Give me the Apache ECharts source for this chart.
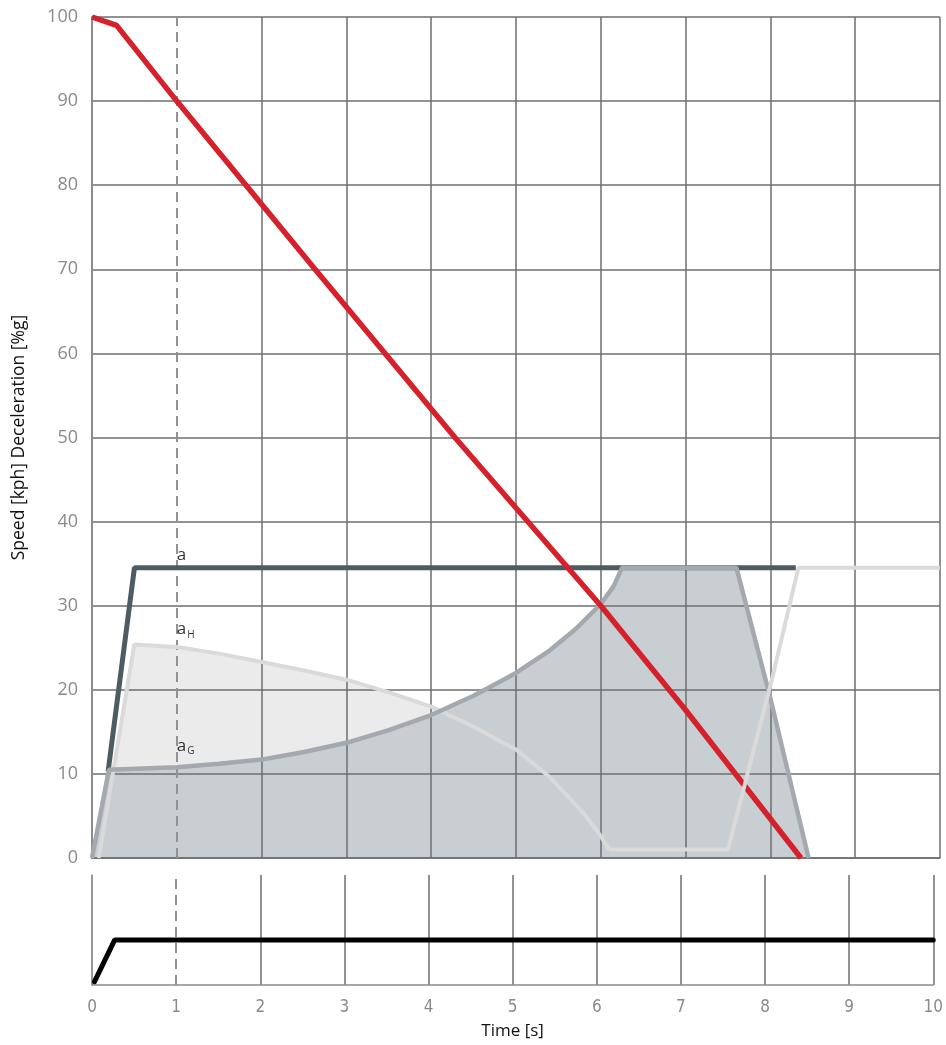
<!DOCTYPE html>
<html>
<head>
<meta charset="utf-8">
<script src="https://cdn.jsdelivr.net/npm/echarts@6/dist/echarts.min.js"></script>
<style>
html,body{margin:0;padding:0;background:#fff;}
#chart{width:946px;height:1045px;}
</style>
</head>
<body>
<div id="chart"></div>
<script>
// ---- data ----
const speedX = [0, 0.29, 1, 2.63, 4.28, 6.0, 7.0, 8.36];
const speedY = [100, 99, 90, 70, 50, 30, 17.6, 0];

const aX = [0.19, 0.5, 8.3];
const aY = [10.3, 34.5, 34.5];

const aGX = [0, 0.2, 1, 1.5, 2, 2.5, 3, 3.5, 4, 4.5, 5, 5.4, 5.7, 6, 6.15, 6.25, 7.6, 8.0, 8.45];
const aGY = [0, 10.5, 10.8, 11.2, 11.7, 12.6, 13.7, 15.2, 17.0, 19.3, 22.0, 24.7, 27.2, 30.2, 32.3, 34.5, 34.5, 19, 0];

const aHX = [0.08, 0.5, 1, 1.5, 2, 2.5, 3, 3.5, 4, 4.5, 5, 5.4, 5.8, 6.0, 6.1, 7.5, 8.02, 8.33, 10];
const aHY = [0, 25.4, 25.1, 24.3, 23.3, 22.3, 21.2, 19.7, 18.0, 15.6, 12.9, 9.6, 5.3, 2.6, 1.0, 1.0, 21.3, 34.5, 34.5];
const aHFillEnd = 6.1;

const pedalX = [0.03, 0.27, 10];
const pedalY = [0.03, 0.41, 0.41];

const labelText = ['a', 'a', 'a'];
const labelSub = ['', 'H', 'G'];
const labelX = [1.0, 1.0, 1.0];
const labelY = [36.0, 27.2, 13.3];

const xTicks = [0,1,2,3,4,5,6,7,8,9,10];
const yTicks = [0,10,20,30,40,50,60,70,80,90,100];
const markTime = 1;

const zip = (xs, ys) => xs.map((x, i) => [x, ys[i]]);
const aHAll = zip(aHX, aHY);
const aHFill = aHAll.filter(p => p[0] <= aHFillEnd);
const aHHead = aHFill;
const aHTail = aHAll.filter(p => p[0] >= aHFillEnd);

const gridColor = '#6e6e6e';
// vertical grid colours: the line at markTime is replaced by the dashed marker
const vColors = xTicks.map(t => t === markTime ? 'rgba(0,0,0,0)' : gridColor);
const dashStyle = {color: '#929292', width: 2, type: [10, 6]};

const chart = echarts.init(document.getElementById('chart'), null, {renderer: 'canvas'});
chart.setOption({
  animation: false,
  backgroundColor: '#fff',
  grid: [
    {left: 92, top: 17, width: 848, height: 841},
    {left: 92, top: 875, width: 848, height: 110}
  ],
  xAxis: [
    {
      type: 'value', gridIndex: 0, min: xTicks[0], max: xTicks[xTicks.length-1], interval: 1, z: 3,
      axisLine: {show: true, lineStyle: {color: gridColor, width: 1.5}},
      axisTick: {show: false}, axisLabel: {show: false},
      splitLine: {show: true, lineStyle: {color: vColors, width: 1.5}}
    },
    {
      type: 'value', gridIndex: 1, min: xTicks[0], max: xTicks[xTicks.length-1], interval: 1, z: 3,
      axisLine: {show: true, lineStyle: {color: '#8a8a8a', width: 1.5}},
      axisTick: {show: false},
      axisLabel: {show: true, color: '#8a8a8a', fontSize: 17, margin: 14,
        fontFamily: "'Liberation Sans Narrow', 'DejaVu Sans Condensed', 'Liberation Sans', sans-serif"},
      splitLine: {show: true, lineStyle: {color: vColors, width: 1.5}},
      name: 'Time [s]', nameLocation: 'middle', nameGap: 38,
      nameTextStyle: {color: '#111', fontSize: 17, fontFamily: "'Open Sans', sans-serif"}
    }
  ],
  yAxis: [
    {
      type: 'value', gridIndex: 0, min: yTicks[0], max: yTicks[yTicks.length-1], interval: 10, z: 3,
      axisLine: {show: true, lineStyle: {color: '#8c8c8c', width: 2}},
      axisTick: {show: false},
      axisLabel: {show: true, color: '#8a8a8a', fontSize: 18, margin: 14,
        fontFamily: "'Open Sans', sans-serif"},
      splitLine: {show: true, lineStyle: {color: gridColor, width: 1.5}},
      name: 'Speed [kph] Deceleration [%g]', nameLocation: 'middle', nameRotate: 90, nameGap: 64,
      nameTextStyle: {color: '#111', fontSize: 17.5, fontFamily: "'Open Sans', sans-serif"}
    },
    {
      type: 'value', gridIndex: 1, min: 0, max: 1, z: 3,
      axisLine: {show: true, lineStyle: {color: '#9a9a9a', width: 1.5}},
      axisTick: {show: false}, axisLabel: {show: false},
      splitLine: {show: false}
    }
  ],
  series: [
    {
      name: 'aH fill', type: 'line', xAxisIndex: 0, yAxisIndex: 0, data: aHFill,
      symbol: 'none', lineStyle: {width: 0}, areaStyle: {color: '#ebebeb', opacity: 1}, z: 1, silent: true
    },
    {
      name: 'aG fill', type: 'line', xAxisIndex: 0, yAxisIndex: 0, data: zip(aGX, aGY),
      symbol: 'none', lineStyle: {width: 0}, areaStyle: {color: '#c9ced3', opacity: 1}, z: 2, silent: true
    },
    {
      name: 'marker2', type: 'line', xAxisIndex: 1, yAxisIndex: 1, data: [[markTime, 0]],
      symbol: 'none', lineStyle: {width: 0}, z: 4, silent: true,
      markLine: {silent: true, symbol: 'none', label: {show: false}, lineStyle: dashStyle,
        data: [{xAxis: markTime}]}
    },
    {
      name: 'a', type: 'line', xAxisIndex: 0, yAxisIndex: 0, data: zip(aX, aY),
      symbol: 'none', lineStyle: {color: '#4f5b63', width: 5}, z: 5,
      markLine: {silent: true, symbol: 'none', label: {show: false}, lineStyle: dashStyle,
        data: [{xAxis: markTime}]}
    },
    {
      name: 'aH', type: 'line', xAxisIndex: 0, yAxisIndex: 0, data: aHHead,
      symbol: 'none', lineStyle: {color: '#dadada', width: 4}, z: 6
    },
    {
      name: 'aG', type: 'line', xAxisIndex: 0, yAxisIndex: 0, data: zip(aGX, aGY),
      symbol: 'none', lineStyle: {color: '#a3a9af', width: 4.5}, z: 7
    },
    {
      name: 'speed', type: 'line', xAxisIndex: 0, yAxisIndex: 0, data: zip(speedX, speedY),
      symbol: 'none', lineStyle: {color: '#d4222d', width: 5.5}, z: 8
    },
    {
      name: 'aH tail', type: 'line', xAxisIndex: 0, yAxisIndex: 0, data: aHTail,
      symbol: 'none', lineStyle: {color: '#dadada', width: 4}, z: 9
    },
    {
      name: 'labels', type: 'scatter', xAxisIndex: 0, yAxisIndex: 0, symbolSize: 0, z: 10,
      data: labelX.map((x, i) => ({value: [x, labelY[i]], main: labelText[i], sub: labelSub[i]})),
      label: {
        show: true, position: 'right', distance: 0,
        formatter: p => '{m|' + p.data.main + '}' + (p.data.sub ? '{s|' + p.data.sub + '}' : ''),
        rich: {
          m: {fontSize: 17, color: '#000', fontFamily: "'Open Sans', sans-serif"},
          s: {fontSize: 10, color: '#000', fontFamily: "'Open Sans', sans-serif", padding: [11, 0, 0, 1]}
        }
      }
    },
    {
      name: 'pedal', type: 'line', xAxisIndex: 1, yAxisIndex: 1, data: zip(pedalX, pedalY),
      symbol: 'none', lineStyle: {color: '#000', width: 5, cap: 'round'}, z: 6
    }
  ]
});
</script>
</body>
</html>
